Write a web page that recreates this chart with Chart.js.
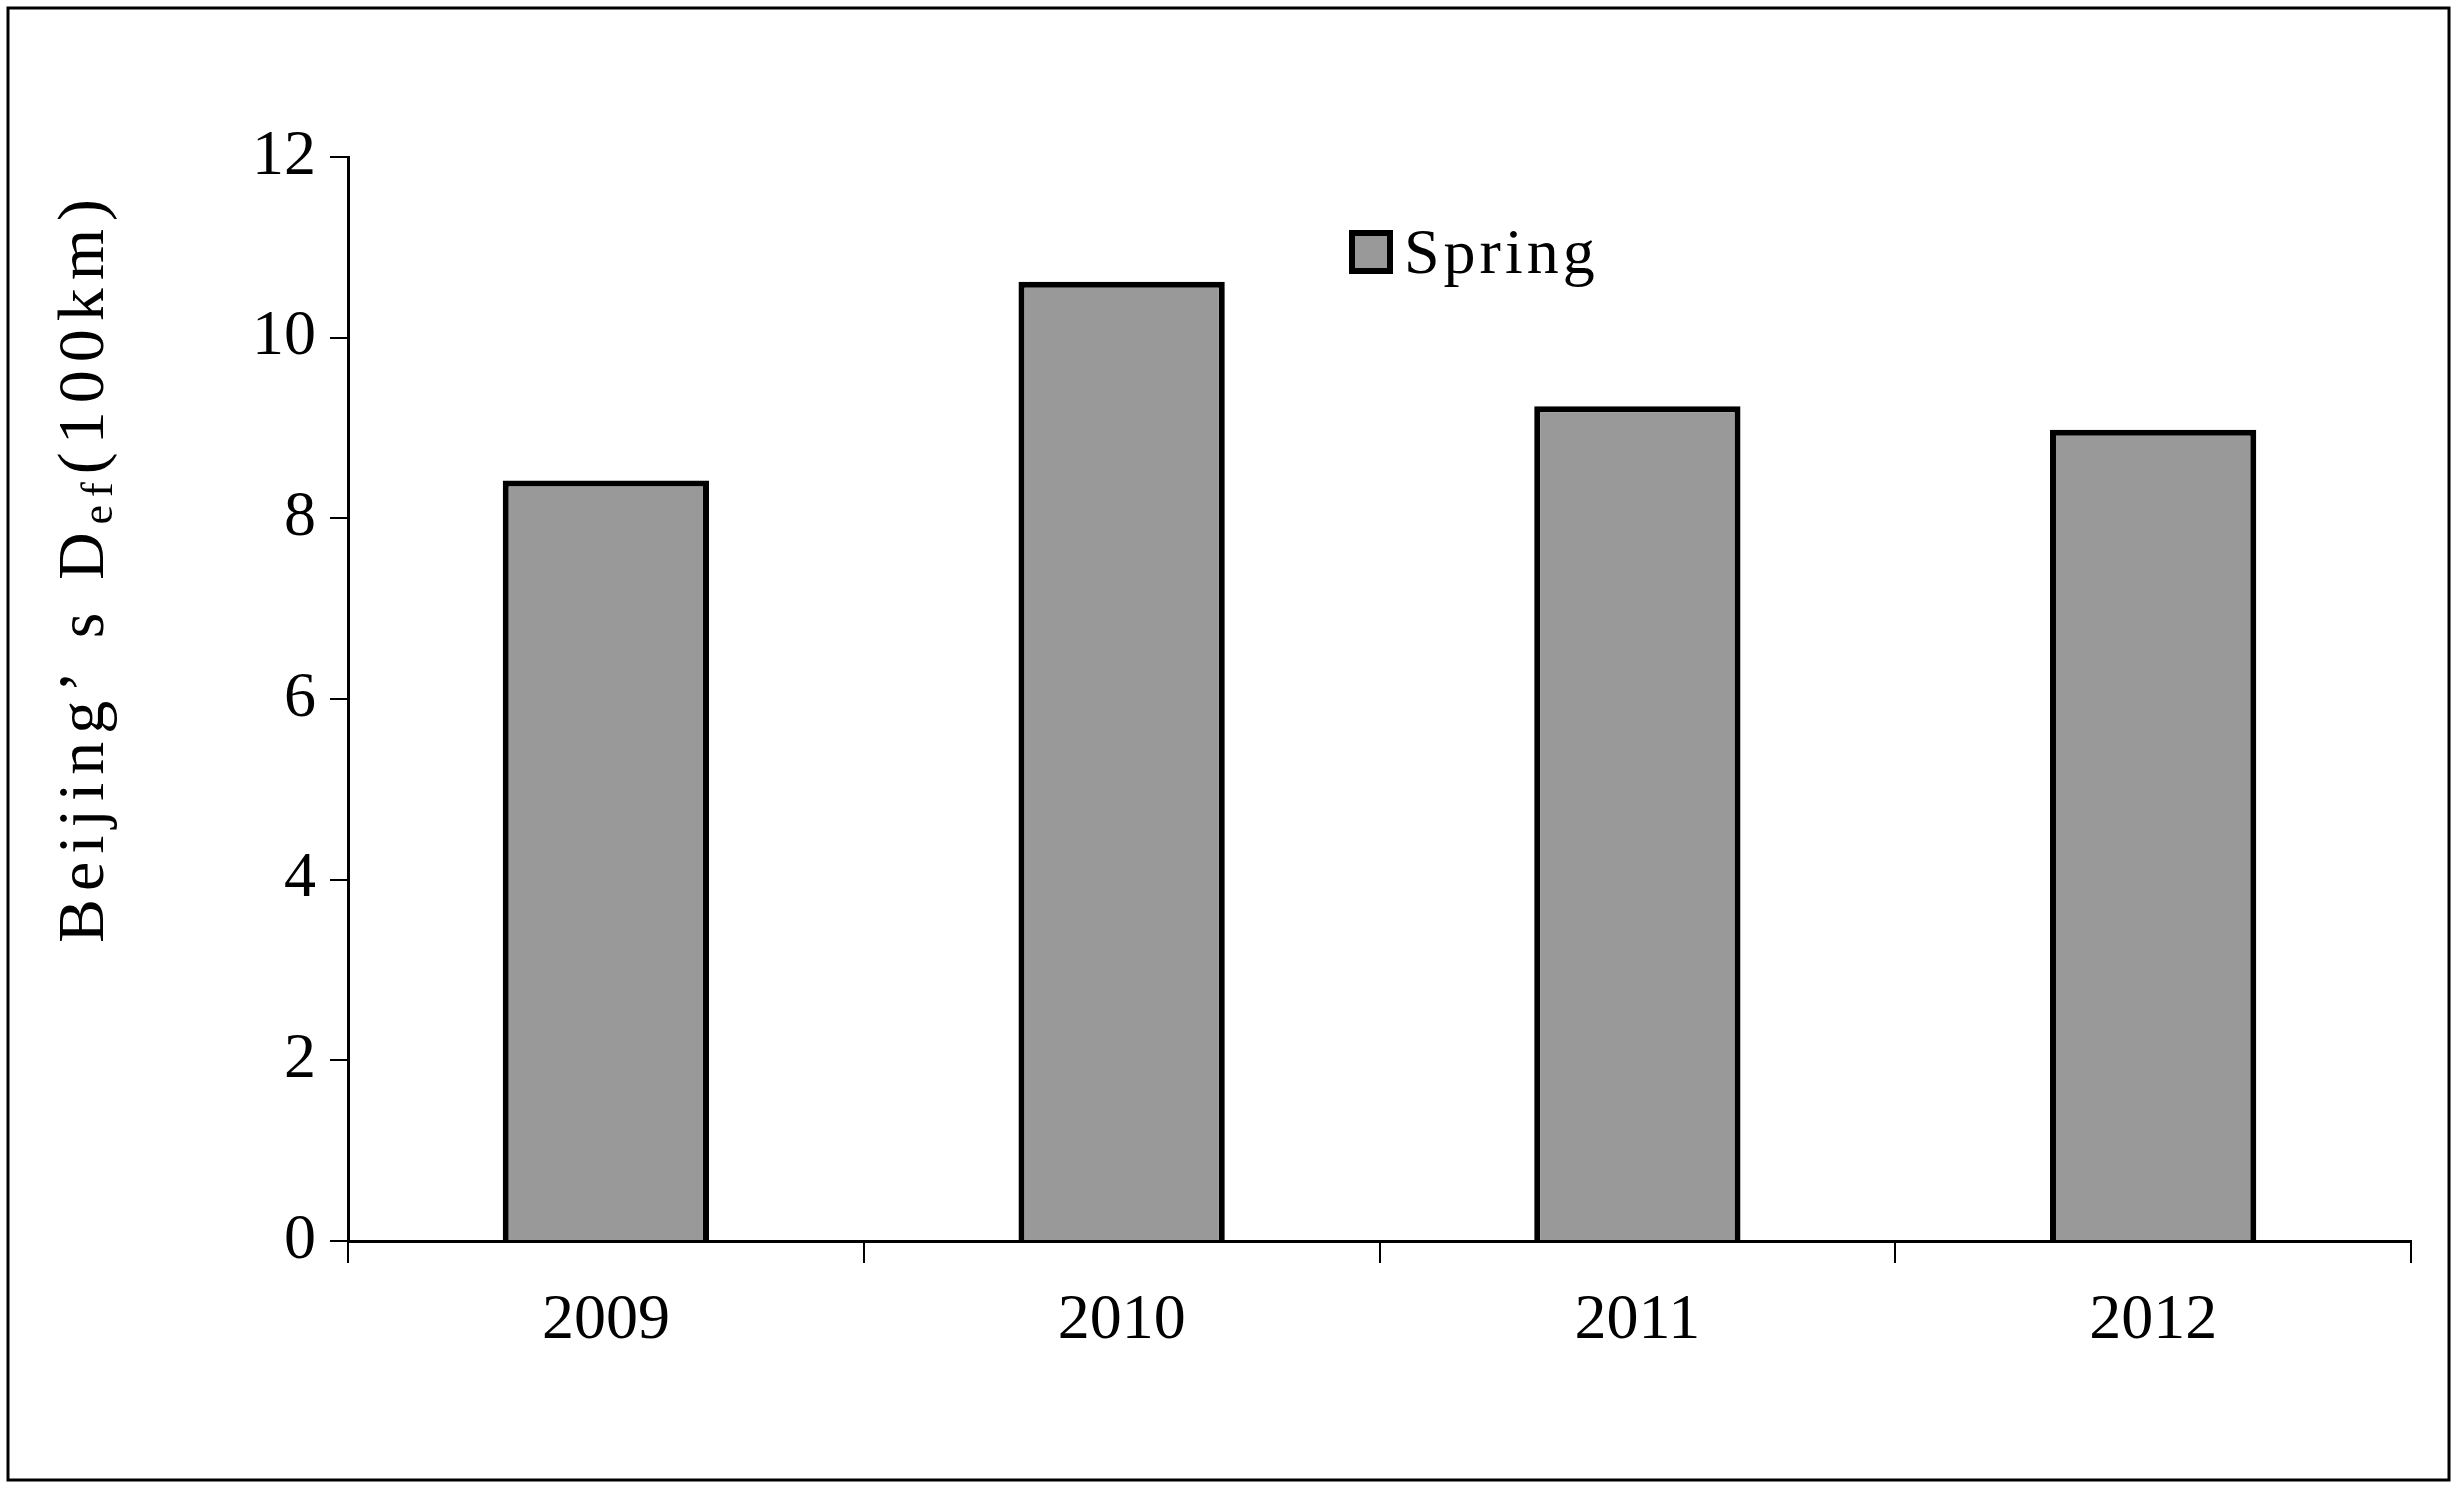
<!DOCTYPE html>
<html>
<head>
<meta charset="utf-8">
<script src="https://cdn.jsdelivr.net/npm/chart.js@4"></script>
<style>
  html, body { margin: 0; padding: 0; background: #fff; }
  #wrap { width: 2458px; height: 1488px; position: relative; }
</style>
</head>
<body>
<div id="wrap"><canvas id="defChart"></canvas></div>
<script>
const years = ['2009', '2010', '2011', '2012'];
const springDef = [8.42, 10.62, 9.24, 8.98];
const yTicks = [0, 2, 4, 6, 8, 10, 12];

const serif = '"Liberation Serif", "DejaVu Serif", serif';

const extras = {
    id: 'extras',
    beforeDraw(chart) {
        const { ctx } = chart;
        ctx.save();
        ctx.fillStyle = '#fff';
        ctx.fillRect(0, 0, chart.width, chart.height);
        ctx.strokeStyle = '#000';
        ctx.lineWidth = 3;
        ctx.strokeRect(8, 8, 2441, 1472);
        ctx.restore();
    },
    afterDraw(chart) {
        const { ctx } = chart;
        ctx.save();
        // legend
        ctx.fillStyle = '#999999';
        ctx.strokeStyle = '#000';
        ctx.lineWidth = 6;
        ctx.fillRect(1352, 233, 38, 38);
        ctx.strokeRect(1352, 233, 38, 38);
        ctx.fillStyle = '#000';
        ctx.font = '64px ' + serif;
        ctx.letterSpacing = '4px';
        ctx.textBaseline = 'middle';
        ctx.textAlign = 'left';
        ctx.fillText('Spring', 1404, 256);

        // y title with subscript
        ctx.translate(86, 567);
        ctx.rotate(-Math.PI / 2);
        const big = '66px ' + serif, small = '44px ' + serif;
        ctx.letterSpacing = '8px';
        const parts = [['Beijing’ s D', big, 0], ['ef', small, 14], ['(100km)', big, 0]];
        let total = 0;
        parts.forEach(p => { ctx.font = p[1]; total += ctx.measureText(p[0]).width; });
        let x = -total / 2;
        parts.forEach(p => {
            ctx.font = p[1];
            ctx.fillText(p[0], x, p[2]);
            x += ctx.measureText(p[0]).width;
        });
        ctx.restore();
    }
};

new Chart(document.getElementById('defChart'), {
    type: 'bar',
    data: {
        labels: years,
        datasets: [{
            label: 'Spring',
            data: springDef,
            backgroundColor: '#999999',
            borderColor: '#000000',
            borderWidth: 6,
            borderSkipped: 'bottom',
            categoryPercentage: 0.8,
            barPercentage: 0.5
        }]
    },
    plugins: [extras],
    options: {
        responsive: true,
        maintainAspectRatio: false,
        animation: false,
        devicePixelRatio: 1,
        layout: { padding: { top: 157, right: 47, left: 0, bottom: 0 } },
        plugins: { legend: { display: false }, tooltip: { enabled: false } },
        scales: {
            x: {
                afterFit(scale) { scale.height = 247; },
                border: { display: true, color: '#000', width: 3 },
                grid: { offset: true, drawOnChartArea: false, color: '#000', lineWidth: 2, tickLength: 22 },
                ticks: { color: '#000', padding: 20, font: { family: serif, size: 64 } }
            },
            y: {
                min: 0,
                max: 12,
                afterFit(scale) { scale.width = 348; },
                afterBuildTicks(scale) { scale.ticks = yTicks.map(v => ({ value: v })); },
                border: { display: true, color: '#000', width: 3 },
                grid: { drawOnChartArea: false, color: '#000', lineWidth: 2, tickLength: 18 },
                ticks: { color: '#000', padding: 14, font: { family: serif, size: 64 } }
            }
        }
    }
});
</script>
</body>
</html>
